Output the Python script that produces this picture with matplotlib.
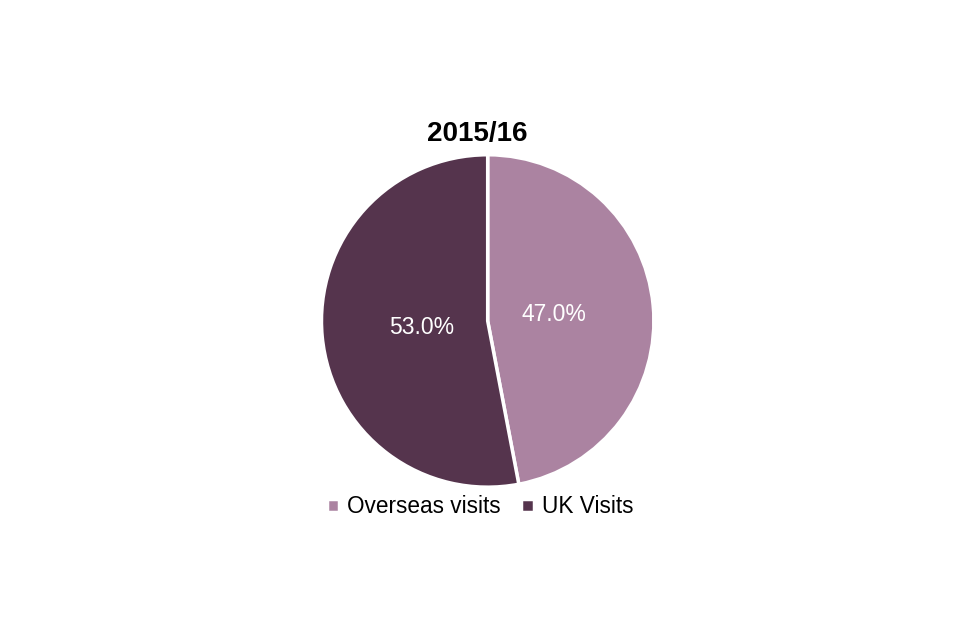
import matplotlib.pyplot as plt

plt.rcParams['font.family'] = ['Liberation Sans', 'DejaVu Sans']

labels = ['Overseas visits', 'UK Visits']
values = [47.0, 53.0]
colors = ['#AB83A1', '#55344D']

fig = plt.figure(figsize=(9.6, 6.4), dpi=100)
ax = fig.add_axes([0.334, 0.2375, 0.348, 0.522])
wedges, texts, autotexts = ax.pie(values, colors=colors, startangle=90, counterclock=False,
                                  autopct='%.1f%%', pctdistance=0.4,
                                  wedgeprops=dict(edgecolor='white', linewidth=2.5),
                                  textprops=dict(color='white', fontsize=16.5))
ax.set_aspect('equal')
ax.set_xlim(-1.005, 1.005)
ax.set_ylim(-1.005, 1.005)
fig.text(0.497, 0.79, '2015/16', ha='center', va='center', fontsize=20, fontweight='bold')
fig.legend(wedges, labels, loc='center', bbox_to_anchor=(0.5, 0.208), ncol=2, frameon=False,
           fontsize=16.3, handlelength=0.55, handleheight=0.55, handletextpad=0.35, columnspacing=0.9)
fig.savefig('out.png', dpi=100)
